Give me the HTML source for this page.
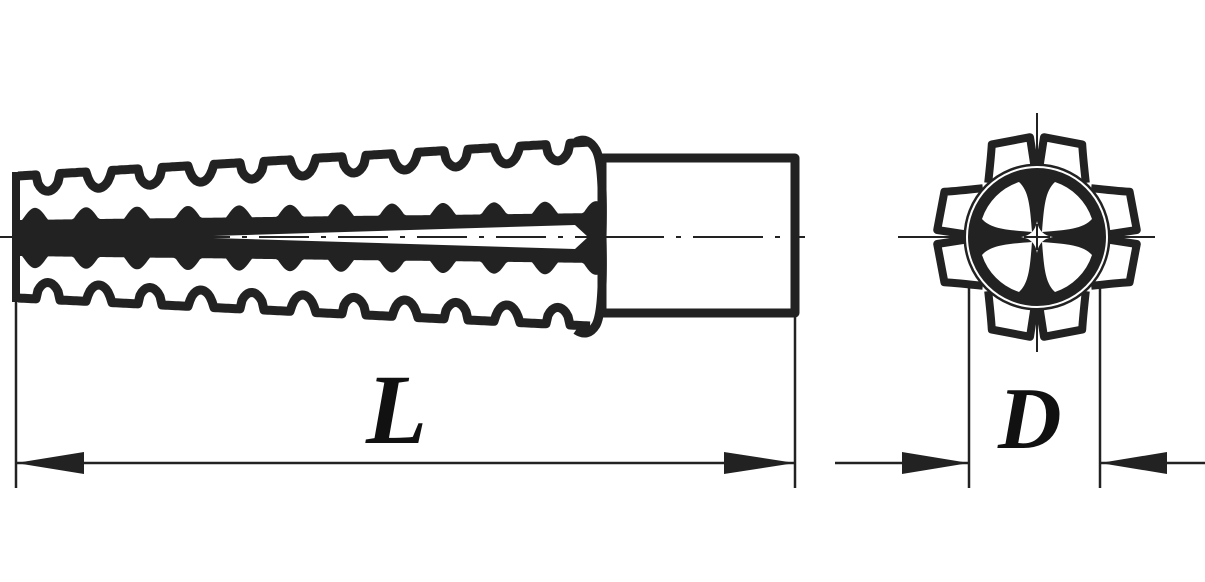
<!DOCTYPE html>
<html><head><meta charset="utf-8"><style>
html,body{margin:0;padding:0;background:#fff;width:1205px;height:582px;overflow:hidden}
svg{display:block}
</style></head><body>
<svg id="s" width="1205" height="582" viewBox="0 0 1205 582" xmlns="http://www.w3.org/2000/svg">
<g fill="none" stroke="#222" stroke-linejoin="round">
<rect x="602" y="158" width="193" height="155" stroke-width="9"/>
<line x1="0" y1="237" x2="805" y2="237" stroke-width="2" stroke-dasharray="70,12,5,12"/>
<line x1="16" y1="300" x2="16" y2="488" stroke-width="2.5"/>
<line x1="795" y1="313" x2="795" y2="488" stroke-width="2.5"/>
<line x1="16" y1="463" x2="795" y2="463" stroke-width="2.5"/>
<line x1="1037" y1="113" x2="1037" y2="352" stroke-width="2"/>
<line x1="898" y1="237" x2="1155" y2="237" stroke-width="2"/>
<line x1="969" y1="285" x2="969" y2="488" stroke-width="2.5"/>
<line x1="1100" y1="285" x2="1100" y2="488" stroke-width="2.5"/>
<line x1="835" y1="463" x2="969" y2="463" stroke-width="2.5"/>
<line x1="1100" y1="463" x2="1205" y2="463" stroke-width="2.5"/>
</g>
<g fill="#222">
<polygon points="16,463 84,452 84,474"/>
<polygon points="795,463 724,452 724,474"/>
<polygon points="969,463 902,452 902,474"/>
<polygon points="1100,463 1167,452 1167,474"/>
</g>
<g id="dyn"></g>
<g fill="none" stroke="#222">
<circle cx="1037" cy="237" r="66" stroke-width="15"/>
<circle cx="1037" cy="237" r="70" stroke="#fff" stroke-width="2"/>
</g>
<circle cx="1037" cy="237" r="60" fill="#222"/>
<g fill="#fff" transform="translate(1037,237)">
<path d="M5,5 C7,30 8,46 18,55 A58,58 0 0 0 55,18 C46,8 30,7 5,5 Z"/>
<path d="M-5,5 C-7,30 -8,46 -18,55 A58,58 0 0 1 -55,18 C-46,8 -30,7 -5,5 Z"/>
<path d="M5,-5 C7,-30 8,-46 18,-55 A58,58 0 0 1 55,-18 C46,-8 30,-7 5,-5 Z"/>
<path d="M-5,-5 C-7,-30 -8,-46 -18,-55 A58,58 0 0 0 -55,-18 C-46,-8 -30,-7 -5,-5 Z"/>
<path d="M0,-16 Q2,-2 16,0 Q2,2 0,16 Q-2,2 -16,0 Q-2,-2 0,-16 Z"/>
</g>
<line x1="1037" y1="224" x2="1037" y2="250" stroke="#222" stroke-width="2"/>
<line x1="1024" y1="237" x2="1050" y2="237" stroke="#222" stroke-width="2"/>
<text x="366" y="443" font-family="Liberation Serif, serif" font-weight="bold" font-style="italic" font-size="100" fill="#111">L</text>
<text x="998" y="448" font-family="Liberation Serif, serif" font-weight="bold" font-style="italic" font-size="88" fill="#111">D</text>
</svg>
<script>
(function(){
var g=document.getElementById('dyn'),NS='http://www.w3.org/2000/svg';
function add(tag,attrs){var e=document.createElementNS(NS,tag);for(var k in attrs)e.setAttribute(k,attrs[k]);g.appendChild(e);return e;}
function profile(y0,y1,dir){
  var x0=18,x1=590,pts=[];
  for(var x=x0;x<=x1;x+=2){
    var y=y0+(y1-y0)*(x-x0)/(x1-x0);
    var t=((x-36)%51+51)%51;
    var dip=0;
    if(t<24){dip=Math.pow(Math.sin(Math.PI*t/24),0.5)*17;}
    pts.push([x,y+(dir<0?dip:-dip)]);
  }
  return 'M'+pts.map(function(p){return p[0]+','+p[1].toFixed(1)}).join(' L');
}
add('path',{d:profile(176,142,-1),fill:'none',stroke:'#222','stroke-width':9,'stroke-linejoin':'round'});
add('path',{d:profile(298,326,1),fill:'none',stroke:'#222','stroke-width':9,'stroke-linejoin':'round'});
add('path',{d:'M16,172 L16,302',stroke:'#222','stroke-width':8,fill:'none'});
add('path',{d:'M576,142 Q588,136 596,150 Q604,165 602,237 Q604,310 596,325 Q588,338 576,330',stroke:'#222','stroke-width':9,fill:'none'});
var tp=[],bt=[];
for(var x=18;x<=598;x+=2){
  var t=((x-10)%51+51)%51;
  var b=Math.max(0,Math.cos(Math.PI*2*(t-25)/51))*12;
  tp.push(x+','+(220-(x-18)*0.012-b).toFixed(1));
  bt.push(x+','+(256+(x-18)*0.012+b).toFixed(1));
}
add('path',{d:'M'+tp.join(' L')+' L'+bt.reverse().join(' L')+' Z',fill:'#222'});
add('polygon',{points:'180,237 575,225 588,237 575,249',fill:'#fff'});
add('line',{x1:180,y1:237,x2:590,y2:237,stroke:'#222','stroke-width':2,'stroke-dasharray':'50,12,5,12'});
var cx=1037,cy=237;
[[-90,-1],[-90,1],[0,-1],[0,1],[90,-1],[90,1],[180,-1],[180,1]].forEach(function(a){
  var base=a[0]*Math.PI/180,s=a[1];
  function P(r,da){var an=base+s*da*Math.PI/180;return (cx+r*Math.cos(an)).toFixed(1)+','+(cy+r*Math.sin(an)).toFixed(1);}
  add('path',{d:'M'+P(70,2)+' L'+P(100,4)+' L'+P(103,26)+' Q'+P(92,30)+' '+P(73,42),fill:'none',stroke:'#222','stroke-width':8,'stroke-linejoin':'round'});
});
})();
</script>
</body></html>
